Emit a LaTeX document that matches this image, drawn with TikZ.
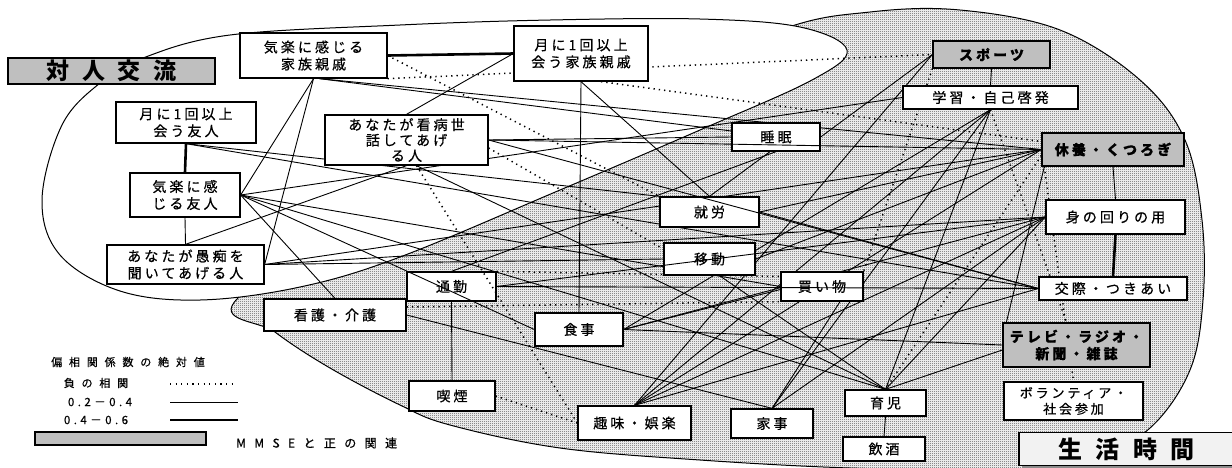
\documentclass[tikz,border=0pt]{standalone}
\usepackage{fontspec}
\newfontfamily\jp[LetterSpace=22,FakeBold=0.6]{Noto Sans CJK JP}
\newfontfamily\jpn[LetterSpace=30,FakeBold=0.6]{Noto Sans CJK JP}
\newfontfamily\jpw[LetterSpace=62,FakeBold=0.6]{Noto Sans CJK JP}
\newfontfamily\jpt[LetterSpace=55]{Noto Sans CJK JP}
\usetikzlibrary{patterns}
\pgfdeclarelayer{regions}
\pgfdeclarelayer{edges}
\pgfdeclarelayer{front}
\pgfsetlayers{regions,edges,main,front}
\pgfdeclarepatternformonly{finedots}{\pgfqpoint{0pt}{0pt}}{\pgfqpoint{2pt}{2pt}}{\pgfqpoint{2pt}{2pt}}{%
  \pgfpathrectangle{\pgfqpoint{0pt}{0pt}}{\pgfqpoint{1pt}{1pt}}%
  \pgfpathrectangle{\pgfqpoint{1pt}{1pt}}{\pgfqpoint{1pt}{1pt}}\pgfusepath{fill}}
\begin{document}
\begin{tikzpicture}[x=1pt,y=-1pt,
  box/.style={draw, line width=1.3pt, fill=white, inner sep=0pt, align=center, font=\jp\fontsize{14}{17}\selectfont},
  gbox/.style={box, fill=black!25, font=\jp\bfseries\fontsize{14}{17}\selectfont},
  thn/.style={line width=0.9pt},
  thk/.style={line width=2.6pt},
  neg/.style={line width=1.5pt, dash pattern=on 1.3pt off 4pt},
  legtext/.style={font=\jpw\fontsize{11}{13}\selectfont, inner sep=0pt}
]
\useasboundingbox (0,0) rectangle (1232,467);

% ---------- nodes ----------
\node[box, minimum width=147pt, minimum height=45pt] (kfam) at (313.5,55.5) {気楽に感じる\\家族親戚};
\node[box, minimum width=134pt, minimum height=55pt] (mfam) at (581,53.5) {月に1回以上\\会う家族親戚};
\node[box, minimum width=140pt, minimum height=41pt] (mfri) at (186,122.5) {月に1回以上\\会う友人};
\node[box, minimum width=163pt, minimum height=50pt, font=\jp\fontsize{14}{15.5}\selectfont] (kanbyo) at (406.5,140) {あなたが看病世\\話してあげ\\る人};
\node[box, minimum width=110pt, minimum height=44pt] (kfri) at (185,195) {気楽に感\\じる友人};
\node[box, minimum width=157pt, minimum height=39pt] (guchi) at (185.5,264.5) {あなたが愚痴を\\聞いてあげる人};
\node[gbox, minimum width=117pt, minimum height=27pt] (sports) at (991.5,54.5) {スポーツ};
\node[box, minimum width=175pt, minimum height=23pt] (gakushu) at (990.5,97.5) {学習・自己啓発};
\node[box, minimum width=88pt, minimum height=28pt] (suimin) at (776,137) {睡眠};
\node[gbox, minimum width=142pt, minimum height=33pt] (kyuyo) at (1113,149.5) {休養・くつろぎ};
\node[box, minimum width=139pt, minimum height=34pt] (minomawari) at (1115.5,217) {身の回りの用};
\node[box, minimum width=99pt, minimum height=30pt] (shuro) at (709.5,212) {就労};
\node[box, minimum width=91pt, minimum height=32pt] (ido) at (709.5,259) {移動};
\node[box, minimum width=148pt, minimum height=23pt] (kosai) at (1113,288.5) {交際・つきあい};
\node[box, minimum width=82pt, minimum height=29pt] (kaimono) at (822,286.5) {買い物};
\node[box, minimum width=89pt, minimum height=29pt] (tsukin) at (451.5,286.5) {通勤};
\node[box, minimum width=142pt, minimum height=32pt] (kango) at (335,315) {看護・介護};
\node[box, minimum width=88pt, minimum height=33pt] (shokuji) at (579,329.5) {食事};
\node[gbox, minimum width=147pt, minimum height=44pt] (tv) at (1076.5,345) {テレビ・ラジオ・\\新聞・雑誌};
\node[box, minimum width=86pt, minimum height=30pt] (kitsuen) at (452,396) {喫煙};
\node[box, minimum width=113pt, minimum height=34pt] (shumi) at (634.5,423) {趣味・娯楽};
\node[box, minimum width=82pt, minimum height=29pt] (kaji) at (772,423.5) {家事};
\node[box, minimum width=81pt, minimum height=26pt] (ikuji) at (885.5,403) {育児};
\node[box, minimum width=82pt, minimum height=24pt] (inshu) at (884,449) {飲酒};
\node[box, minimum width=139pt, minimum height=38pt, font=\jp\fontsize{13}{16}\selectfont] (volunteer) at (1073.5,401) {ボランティア・\\社会参加};
\node[draw, line width=1.3pt, fill=black!25, minimum width=207pt, minimum height=26pt, inner sep=0pt, font=\jpt\bfseries\fontsize{23}{23}\selectfont] (t1) at (111.5,71) {対人交流};
\fill[black!45] (1022,436) rectangle (1236,469);
\node[draw, line width=1.3pt, fill=black!5, minimum width=215pt, minimum height=33pt, inner sep=0pt, font=\jpt\bfseries\fontsize{24}{24}\selectfont] (t2) at (1126.5,449) {生活時間};

% ---------- legend ----------
\node[legtext] (lg0) at (128,362) {偏相関係数の絶対値};
\node[legtext] (lg1) at (96,383) {負の相関};
\node[inner sep=0pt, font=\jpn\fontsize{11.5}{13}\selectfont] (lg2) at (100,402) {0.2－0.4};
\node[inner sep=0pt, font=\jpn\fontsize{11.5}{13}\selectfont] (lg3) at (96,420) {0.4－0.6};
\coordinate (l1a) at (170,384); \coordinate (l1b) at (237,384);
\coordinate (l2a) at (170,402); \coordinate (l2b) at (238,402);
\coordinate (l3a) at (170,420); \coordinate (l3b) at (238,420);
\draw[line width=1.1pt, dash pattern=on 1.1pt off 4.5pt] (l1a) -- (l1b);
\draw[thn] (l2a) -- (l2b);
\draw[thk] (l3a) -- (l3b);
\node[draw, line width=1.2pt, fill=black!25, minimum width=171pt, minimum height=13pt, inner sep=0pt] (lgbox) at (120.5,438.5) {};
\node[inner sep=0pt, anchor=west, font=\jpw\addfontfeature{LetterSpace=70}\fontsize{12}{13}\selectfont] (lg4) at (236,443) {MMSEと正の関連};

% ---------- regions ----------
\begin{pgfonlayer}{regions}
\draw[line width=1pt, pattern=finedots, pattern color=black!70] plot[smooth cycle, tension=0.6] coordinates {
 (238,298) (420,190) (620,100) (780,30) (870,12) (960,10) (1060,30) (1140,80) (1185,140) (1202,220)
 (1203,300) (1190,370) (1150,428) (1090,460) (1000,470) (850,468) (700,460) (560,448) (450,425) (400,405) (330,368) (275,332)};
\draw[line width=1pt, fill=white] plot[smooth cycle, tension=0.6] coordinates {
 (42,200) (62,125) (100,83) (143,58) (230,35) (400,25) (550,20) (700,19) (800,27) (847,50) (812,80)
 (700,130) (560,190) (400,257) (300,287) (200,300) (120,291) (60,255)};
\end{pgfonlayer}

% ---------- connectors ----------
\begin{pgfonlayer}{edges}
\draw[thk] (mfri.south) -- (kfri.north);
\draw[thk] (kfam.east) -- (mfam.west);
\draw[thk] (minomawari.south) -- (kosai.north);

\draw[thn] (kfri.south) -- (guchi.north);
\draw[thn] (kfam.south) -- (kfri.east);
\draw[thn] (kfam.south) -- (guchi.east);
\draw[thn] (guchi.north) -- (kanbyo.south);
\draw[thn] (mfam.west) -- (kanbyo.north);
\draw[thn] (mfam.south) -- (shokuji.north);
\draw[thn] (mfam.south) -- (shuro.north);
\draw[thn] ([xshift=6pt]kfam.south) -- (kyuyo.west);
\draw[thn] ([xshift=6pt]kfam.south) -- ([yshift=6pt]suimin.west);
\draw[thn] (kanbyo.east) -- (suimin.west);
\draw[thn] (kfri.east) -- (kango.north);
\draw[thn] (kfri.east) -- (ikuji.north);
\draw[thn] (kfri.east) -- (kaimono.west);
\draw[thn] (kfri.east) -- (gakushu.west);
\draw[thn] (kango.east) -- (kaji.north);
\draw[thn] (mfri.south) -- (kosai.west);
\draw[thn] (mfri.south) -- (shuro.north west);
\draw[thn] (guchi.east) -- (kyuyo.west);
\draw[thn] (guchi.east) -- (ido.west);
\draw[thn] (guchi.east) -- (minomawari.west);
\draw[thn] (tsukin.north) -- (suimin.south);
\draw[thn] (shokuji.east) -- ([yshift=-3pt]kaimono.west);
\draw[thn] (shokuji.east) -- (tv.west);
\draw[thn] (shokuji.east) -- (minomawari.west);
\draw[thn] (ikuji.north) -- ([yshift=-5pt]tv.west);
\draw[thn] ([xshift=4pt]tv.north west) -- ([xshift=3pt]kyuyo.south west);
\draw[thn] (ikuji.north) -- (gakushu.south);
\draw[thn] (ikuji.north) -- (minomawari.west);
\draw[thn] ([xshift=10pt]ido.south) -- (ikuji.north);
\draw[thn] ([xshift=10pt]kanbyo.south) -- (ikuji.north);
\draw[thn] (shumi.north) -- (sports.west);
\draw[thn] (shumi.north) -- (gakushu.south);
\draw[thn] (shumi.north) -- (kyuyo.west);
\draw[thn] (shumi.north) -- (minomawari.west);
\draw[thn] (shumi.north) -- (kosai.west);
\draw[thn] ([xshift=-6pt]suimin.south) -- (shuro.north);
\draw[thn] (suimin.east) -- (sports.west);
\draw[thn] (shuro.east) -- (kyuyo.west);
\draw[thn] (shuro.east) -- (kosai.west);
\draw[thn] (ido.east) -- (kyuyo.west);
\draw[thn] (gakushu.south) -- (shokuji.east);
\draw[thn] (gakushu.south) -- (kaji.north);
\draw[thn] (kaji.north) -- ([xshift=18pt]kaimono.south);
\draw[thn] (kaji.north) -- (minomawari.west);
\draw[thn] (tsukin.south) -- (kitsuen.north);
\draw[thn] (ikuji.south) -- (inshu.north);
\draw[thn] (sports.south) -- (gakushu.north);
\draw[thn] (kyuyo.south) -- (minomawari.north);

\draw[neg] (kfam.south east) -- (sports.west);
\draw[neg] (kfam.east) -- (shuro.north west);
\draw[neg] (kitsuen.east) -- (shumi.west);
\draw[neg] ([yshift=8pt]kango.east) -- (kaimono.south west);
\draw[neg] (tsukin.north east) -- ([yshift=10pt]kaimono.west);
\draw[neg] ([xshift=20pt]mfam.south) -- ([yshift=8pt]kyuyo.west);
\draw[neg] ([yshift=-8pt]kanbyo.east) -- ([yshift=10pt]ido.west);
\draw[neg] ([xshift=3pt]kyuyo.south west) -- (volunteer.north);
\draw[neg] ([yshift=-6pt]kyuyo.west) -- (ikuji.north);
\draw[neg] (sports.south west) -- (kaimono.north east);
\draw[neg] (gakushu.south) -- ([xshift=-10pt]tv.north);
\end{pgfonlayer}

\begin{pgfonlayer}{front}
\draw[thn] (kanbyo.east) -- (kyuyo.west);
\draw[thn] (kanbyo.east) -- (kosai.west);
\draw[thn] (kfri.east) -- (shokuji.west);
\draw[thn] (tsukin.east) -- (kosai.west);
\draw[thn] (tsukin.east) -- (minomawari.west);
\draw[neg] ([xshift=10pt]kanbyo.south) -- (shumi.west);
\end{pgfonlayer}
\end{tikzpicture}
\end{document}
